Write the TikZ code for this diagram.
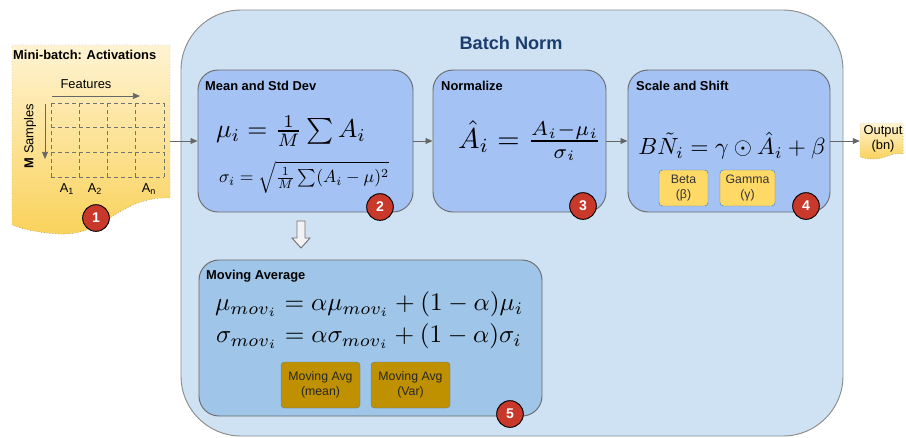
\documentclass[tikz,border=0pt]{standalone}
\usepackage{fontspec}
\setsansfont{Liberation Sans}
\usetikzlibrary{fit,arrows.meta}
\definecolor{bnfill}{HTML}{CFE2F3}
\definecolor{bnline}{HTML}{8C8C8C}
\definecolor{stepfill}{HTML}{A4C2F4}
\definecolor{avgfill}{HTML}{9FC5E8}
\definecolor{boxline}{HTML}{6B6B6B}
\definecolor{paramfill}{HTML}{FFD966}
\definecolor{paramline}{HTML}{4A86C5}
\definecolor{goldfill}{HTML}{BF9000}
\definecolor{badgered}{HTML}{C9392B}
\definecolor{titleblue}{HTML}{1C3D6B}
\definecolor{sheettop}{HTML}{FFF3D2}
\definecolor{sheetbot}{HTML}{F9D25A}
\newcommand{\bigeq}[2]{\scalebox{#1}{$#2$}}
\tikzset{
  batch box/.style={
    draw=bnline, fill=bnfill, thick, rounded corners=1.8cm, inner sep=0pt
  },
  step box/.style={
    draw=boxline, fill=stepfill, thick, rounded corners=0.6cm, inner sep=0pt
  },
  avg box/.style={
    draw=boxline, fill=avgfill, thick, rounded corners=0.6cm, inner sep=0pt
  },
  param box/.style={
    draw=paramline, fill=paramfill, rounded corners=3pt, align=center,
    font=\sffamily\fontsize{10.5}{13}\selectfont, text=black!80,
    minimum height=1.08cm, inner sep=1pt
  },
  gold box/.style={
    draw=paramline, fill=goldfill, rounded corners=3pt, align=center,
    font=\sffamily\fontsize{10.5}{13}\selectfont, text=black!85,
    minimum width=2.37cm, minimum height=1.38cm, inner sep=1pt
  },
  box title/.style={
    anchor=west, font=\sffamily\bfseries\fontsize{11}{13}\selectfont, inner sep=0pt
  },
  plain text/.style={font=\sffamily\fontsize{11}{13}\selectfont},
  badge/.style={
    circle, fill=badgered, draw=black, thick, text=white,
    font=\sffamily\bfseries\fontsize{12}{13}\selectfont,
    inner sep=0pt, minimum size=0.8cm
  },
  sheet/.style={
    draw=black!60, dotted, top color=sheettop, bottom color=sheetbot
  },
  flow/.style={
    draw=black!60, line width=0.8pt, -{Triangle[length=6pt,width=5pt]}
  },
  cell line/.style={draw=black!55, dashed, line width=0.6pt}
}

\begin{document}
\begin{tikzpicture}[x=0.03cm, y=-0.03cm]
\useasboundingbox (0,0) rectangle (906,437);

% Batch Norm outer box
\node[batch box, fit={(181,10) (843,436)}] (bn) {};
\node[font=\sffamily\bfseries\fontsize{15.5}{18}\selectfont, text=titleblue] (bntitle) at (511,43) {Batch Norm};

% Mini-batch sheet
\node[fit={(12,45) (170,234)}, inner sep=0pt] (mb) {};
\shadedraw[sheet] (12,45) -- (170,45) -- (170,198)
  .. controls (120,196) and (105,236) .. (60,234)
  .. controls (38,233) and (22,229) .. (12,225) -- cycle;
\node[box title] (mbtitle) at (13,55) {Mini-batch: Activations};
\node[plain text] (feat) at (86,84) {Features};
\coordinate (featL) at (52,96);
\coordinate (featR) at (140,96);
\draw[flow, line width=0.6pt] (featL) -- (featR);
\node[rotate=90, plain text] (msamp) at (30,136) {\textbf{M} Samples};
\coordinate (sampT) at (45,104);
\coordinate (sampB) at (45,159);
\draw[flow, line width=0.6pt] (sampT) -- (sampB);
\foreach \x in {51,79.25,107.5,135.75,164}
  \draw[cell line] (\x,103) -- (\x,177);
\foreach \y in {103,127.67,152.33,177}
  \draw[cell line] (51,\y) -- (164,\y);
\node[plain text] (a1) at (67,189) {A\textsubscript{1}};
\node[plain text] (a2) at (95,189) {A\textsubscript{2}};
\node[plain text] (an) at (149,189) {A\textsubscript{n}};
\node[badge] (b1) at (96,218) {1};

% Mean and Std Dev
\node[step box, fit={(198,70) (413,212)}] (msd) {};
\node[box title] (msdtitle) at (205,86) {Mean and Std Dev};
\node (mueq) at (291,131) {\bigeq{2.2}{\mu_i = \frac{1}{M}\sum A_i}};
\node (sigeq) at (304,177) {\bigeq{1.5}{\sigma_i = \sqrt{\frac{1}{M}\sum(A_i-\mu)^2}}};
\node[badge] (b2) at (380,207) {2};

% Normalize
\node[step box, fit={(433,70) (606,212)}] (norm) {};
\node[box title] (normtitle) at (441,86) {Normalize};
\node (normeq) at (530,141) {\bigeq{2.45}{\hat{A}_i = \frac{A_i-\mu_i}{\sigma_i}}};
\node[badge] (b3) at (583,206) {3};

% Scale and Shift
\node[step box, fit={(628,70) (830,212)}] (ss) {};
\node[box title] (sstitle) at (636,86) {Scale and Shift};
\node (sseq) at (732,146) {\bigeq{2.0}{B\tilde{N}_i = \gamma\odot\hat{A}_i + \beta}};
\node[param box, minimum width=1.47cm] (beta) at (683.5,188) {Beta\\(β)};
\node[param box, minimum width=1.65cm] (gamma) at (747.5,188) {Gamma\\(γ)};
\node[badge] (b4) at (806,206) {4};

% Output sheet
\node[fit={(860,123) (903,159)}, inner sep=0pt] (out) {};
\shadedraw[sheet] (860,123) -- (903,123) -- (903,154)
  .. controls (890,152) and (885,160) .. (872,159)
  .. controls (867,159) and (863,158) .. (860,157) -- cycle;
\node[align=center, plain text, inner sep=0pt] (outtext) at (883,139) {Output\\(bn)};

% flow arrows
\draw[flow] (mb.east |- msd.west) -- (msd.west);
\draw[flow] (msd.east) -- (norm.west);
\draw[flow] (norm.east) -- (ss.west);
\draw[flow] (ss.east) -- (out.west);

% block arrow down to Moving Average
\draw[draw=black!55, fill=black!5, thick] (297,221) -- (305,221) -- (305,238) -- (310,238)
  -- (301,248) -- (292,238) -- (297,238) -- cycle;

% Moving Average
\node[avg box, fit={(199,260) (542,416)}] (mavg) {};
\node[box title] (mavgtitle) at (206,276) {Moving Average};
\node[anchor=west, inner sep=0pt] (mumov) at (215,304) {\bigeq{2.15}{\mu_{mov_i} = \alpha\mu_{mov_i} + (1-\alpha)\mu_i}};
\node[anchor=west, inner sep=0pt] (sigmov) at (216,336) {\bigeq{2.15}{\sigma_{mov_i} = \alpha\sigma_{mov_i} + (1-\alpha)\sigma_i}};
\node[gold box] (avgmean) at (320.5,385) {Moving Avg\\(mean)};
\node[gold box] (avgvar) at (410.5,385) {Moving Avg\\(Var)};
\node[badge] (b5) at (510,414) {5};

\end{tikzpicture}
\end{document}
